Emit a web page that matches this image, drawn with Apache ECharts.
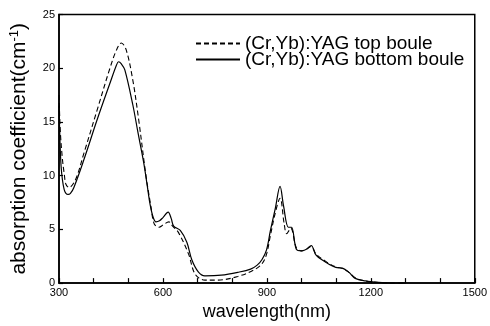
<!DOCTYPE html>
<html><head><meta charset="utf-8">
<script src="https://cdn.jsdelivr.net/npm/echarts@6/dist/echarts.min.js"></script>
<style>html,body{margin:0;padding:0;background:#fff}#c{width:490px;height:326px}</style>
</head><body><div id="c"></div>
<script>
var seriesNames = ['(Cr,Yb):YAG top boule', '(Cr,Yb):YAG bottom boule'];
var xTicks = [300, 600, 900, 1200, 1500];
var yTicks = [0, 5, 10, 15, 20, 25];

var wlTop = [300,304,310,315,320,329,348,372,410,447,466,480,494,513,530,551,565,575,589,600,617,628,645,674,693,721,759,816,863,886,899,910,924,938,950,957,969,985,1000,1014,1028,1042,1071,1099,1118,1137,1155,1184,1222,1260,1300];
var valTop = [17.5,14.0,11.5,10.2,9.2,8.9,9.65,12.1,16.1,20.0,21.7,22.35,21.7,18.9,15.2,10.0,7.2,5.5,5.2,5.4,5.7,5.3,4.7,2.7,0.83,0.28,0.28,0.62,1.23,1.8,2.7,4.4,6.5,7.9,5.5,4.6,5.1,3.3,3.0,3.15,3.4,2.7,2.0,1.5,1.35,1.0,0.5,0.2,0.06,0.0,0.0];

var wlBottom = [300,303,306,310,315,320,326,333,343,372,410,447,466,472,480,490,513,528,544,555,563,572,580,590,600,615,624,631,650,669,683,702,721,768,816,853,872,886,899,910,924,938,948,962,971,985,1000,1014,1028,1042,1071,1099,1118,1137,1155,1184,1222,1260,1300];
var valBottom = [16.5,13.0,10.9,9.6,8.7,8.35,8.25,8.35,8.9,11.5,15.2,18.6,20.3,20.6,20.4,19.85,16.6,14.0,11.3,9.0,7.3,6.1,5.7,5.8,6.1,6.6,6.0,5.3,4.9,3.8,2.2,1.05,0.68,0.74,1.0,1.3,1.67,2.2,3.1,4.85,6.9,9.0,7.2,5.2,5.2,3.15,3.0,3.15,3.5,2.6,1.92,1.46,1.4,1.0,0.44,0.2,0.06,0.0,0.0];

function pairs(xs, ys){ return xs.map(function(x,i){return [x, ys[i]];}); }

var chart = echarts.init(document.getElementById('c'), null, {renderer:'canvas'});
chart.setOption({
  animation:false,
  backgroundColor:'#fff',
  grid:{left:58,right:8,top:14.5,bottom:42,show:true,borderColor:'#000',borderWidth:1.5,backgroundColor:'transparent'},
  legend:{
    orient:'vertical', left:190, top:29, itemWidth:44, itemHeight:14, itemGap:-3,
    itemStyle:{opacity:0},
    textStyle:{fontFamily:'Liberation Sans, Arial, sans-serif', fontSize:19, color:'#000'},
    data:seriesNames
  },
  xAxis:{
    type:'value', min:xTicks[0], max:xTicks[xTicks.length-1], interval:300,
    name:'wavelength(nm)', nameLocation:'middle', nameGap:18,
    nameTextStyle:{fontFamily:'Liberation Sans, Arial, sans-serif', fontSize:18, color:'#000'},
    axisLine:{show:true,lineStyle:{color:'#000',width:1.5}},
    axisTick:{show:true,inside:true,length:5,lineStyle:{color:'#000',width:1.2}},
    minorTick:{show:true,splitNumber:3,length:5,lineStyle:{color:'#000',width:1.2}},
    axisLabel:{color:'#000',fontSize:11,fontFamily:'Liberation Sans Narrow, Arial Narrow, sans-serif',margin:4,
      formatter:function(v){return String(v);}},
    splitLine:{show:false}
  },
  yAxis:{
    type:'value', min:yTicks[0], max:yTicks[yTicks.length-1], interval:5,
    name:'absorption coefficient(cm{sup|-1})', nameLocation:'middle', nameGap:28, nameRotate:90,
    nameTextStyle:{fontFamily:'Liberation Sans, Arial, sans-serif', fontSize:21, color:'#000',
      rich:{sup:{fontSize:13, verticalAlign:'top', padding:[0,0,10,0], fontFamily:'Liberation Sans, Arial, sans-serif', color:'#000'}}},
    axisLine:{show:true,lineStyle:{color:'#000',width:1.5}},
    axisTick:{show:true,inside:true,length:4,lineStyle:{color:'#000',width:1.2}},
    axisLabel:{color:'#000',fontSize:11,fontFamily:'Liberation Sans Narrow, Arial Narrow, sans-serif',margin:4},
    splitLine:{show:false}
  },
  series:[
    {name:seriesNames[0], type:'line', data:pairs(wlTop,valTop), smooth:0.35, symbol:'none',
     lineStyle:{color:'#000',width:1.1,type:[5,3]}, itemStyle:{color:'#000'}, z:3},
    {name:seriesNames[1], type:'line', data:pairs(wlBottom,valBottom), smooth:0.35, symbol:'none',
     lineStyle:{color:'#000',width:1.2,type:'solid'}, itemStyle:{color:'#000'}, z:4}
  ]
});
</script></body></html>
